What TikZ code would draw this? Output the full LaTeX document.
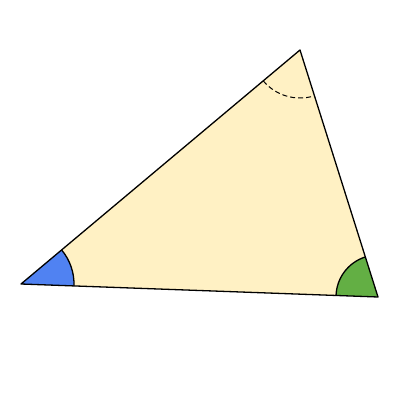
\documentclass[tikz,border=0pt]{standalone}
\usetikzlibrary{angles,calc}
\definecolor{tri}{RGB}{255,241,196}
\definecolor{blueang}{RGB}{80,130,242}
\definecolor{greenang}{RGB}{99,175,68}
\tikzset{
  edge/.style={draw=black,line width=1.3pt,line join=round},
  sector/.style={draw=black,line width=1.3pt},
}
\begin{document}
\begin{tikzpicture}[x=1pt,y=1pt]
\useasboundingbox (0,0) rectangle (400,400);
\coordinate (A) at (21,116);
\coordinate (B) at (300,350);
\coordinate (C) at (378,103);
\fill[tri] (A) -- (B) -- (C) -- cycle;
\pic[sector, fill=blueang, angle radius=53pt] {angle=C--A--B};
\pic[sector, fill=greenang, angle radius=42pt] {angle=B--C--A};
\pic[draw=black, line width=1pt, dash pattern=on 5pt off 3pt, angle radius=48pt] {angle=A--B--C};
\draw[edge] (A) -- (B) -- (C) -- cycle;
\end{tikzpicture}
\end{document}
